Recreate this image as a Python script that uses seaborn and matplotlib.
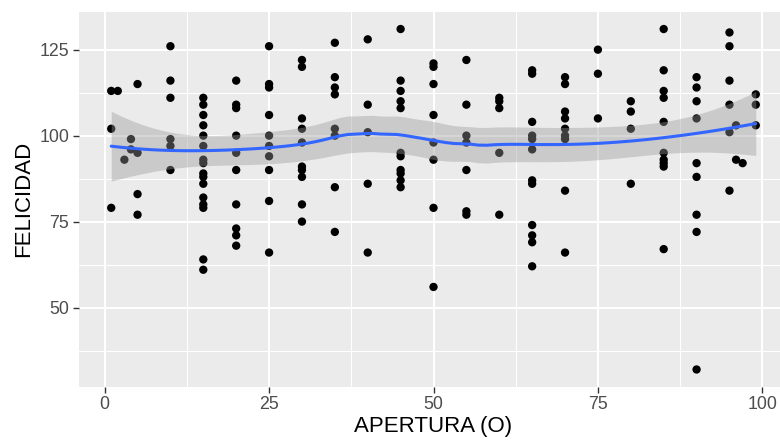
import numpy as np
import pandas as pd
import seaborn as sns
import matplotlib.pyplot as plt
from matplotlib.ticker import MultipleLocator

# Apertura (O) value for every point, and the felicidad read for it
apertura = (
    [1, 1, 1, 2, 3, 4, 4, 5, 5, 5, 5]
    + [10] * 6
    + [15] * 16
    + [20] * 10
    + [25] * 10
    + [30] * 10
    + [35] * 8
    + [40] * 5
    + [45] * 11
    + [50] * 8
    + [55] * 7
    + [60] * 5
    + [65] * 12
    + [70] * 9
    + [75] * 3
    + [80] * 4
    + [85] * 10
    + [90] * 9
    + [95] * 6
    + [96, 96, 97, 99, 99, 99]
)
felicidad = (
    [113, 102, 79, 113, 93, 99, 96, 115, 95, 83, 77]
    + [126, 116, 111, 99, 97, 90]
    + [111, 109, 106, 103, 100, 97, 93, 92, 89, 88, 86, 82, 80, 79, 64, 61]
    + [116, 109, 108, 100, 95, 90, 80, 73, 71, 68]
    + [126, 115, 114, 106, 100, 97, 94, 90, 81, 66]
    + [122, 120, 105, 102, 98, 91, 90, 88, 80, 75]
    + [127, 117, 114, 112, 102, 100, 85, 72]
    + [128, 109, 101, 86, 66]
    + [131, 116, 113, 110, 108, 95, 94, 90, 89, 87, 85]
    + [121, 120, 115, 106, 98, 93, 79, 56]
    + [122, 109, 100, 98, 90, 78, 77]
    + [111, 110, 108, 95, 77]
    + [119, 118, 104, 100, 99, 96, 87, 86, 74, 71, 69, 62]
    + [117, 115, 107, 105, 102, 100, 99, 84, 66]
    + [125, 118, 105]
    + [110, 107, 102, 86]
    + [131, 119, 113, 111, 104, 95, 93, 92, 91, 67]
    + [117, 114, 110, 105, 92, 88, 77, 72, 32]
    + [130, 126, 116, 109, 101, 84]
    + [103, 93, 92, 112, 109, 103]
)
x_ticks = [0, 25, 50, 75, 100]
y_ticks = [50, 75, 100, 125]

df = pd.DataFrame({"APERTURA (O)": apertura, "FELICIDAD": felicidad})


# loess like R's default (degree 2, span 0.75) with a 95% band
def loess_weights(x, x0, span=0.75):
    n = len(x)
    q = int(np.floor(n * span))
    d = np.abs(x - x0)
    h = np.sort(d)[q - 1]
    w = np.clip(1 - (d / h) ** 3, 0, None) ** 3
    X = np.column_stack([np.ones(n), x - x0, (x - x0) ** 2])
    A = X.T @ (w[:, None] * X)
    return np.linalg.solve(A, (X * w[:, None]).T)[0]


xv = df["APERTURA (O)"].to_numpy(float)
yv = df["FELICIDAD"].to_numpy(float)
L = np.array([loess_weights(xv, x0) for x0 in xv])
M = np.eye(len(xv)) - L
resid = M @ yv
delta1 = np.trace(M.T @ M)
sigma = np.sqrt(resid @ resid / delta1)

grid = np.linspace(xv.min(), xv.max(), 80)
Lg = np.array([loess_weights(xv, x0) for x0 in grid])
fit = Lg @ yv
se = sigma * np.sqrt((Lg ** 2).sum(axis=1))
smooth = pd.DataFrame({"x": grid, "fit": fit, "lo": fit - 1.97 * se, "hi": fit + 1.97 * se})

sns.set_theme(style="darkgrid", rc={
    "axes.facecolor": "#EBEBEB",
    "grid.color": "white",
    "axes.edgecolor": "#EBEBEB",
})
plt.rcParams["font.family"] = ["Liberation Sans", "DejaVu Sans"]

fig = plt.figure(figsize=(7.8, 4.41), dpi=100)
# the reference is cut on the right, the panel runs past the edge
ax = fig.add_axes([79 / 780, (441 - 386.5) / 441, 709 / 780, 374.5 / 441])

sns.scatterplot(data=df, x="APERTURA (O)", y="FELICIDAD", color="black",
                s=36, edgecolor="none", ax=ax, zorder=3)
ax.fill_between(smooth["x"], smooth["lo"], smooth["hi"], color="#999999",
                alpha=0.4, linewidth=0, zorder=4)
sns.lineplot(data=smooth, x="x", y="fit", color="#3366FF", linewidth=2.2,
             ax=ax, zorder=5)

xr = xv.max() - xv.min()
yr = yv.max() - yv.min()
ax.set_xlim(xv.min() - 0.05 * xr, xv.max() + 0.05 * xr)
ax.set_ylim(yv.min() - 0.05 * yr, yv.max() + 0.05 * yr)

ax.set_xticks(x_ticks)
ax.set_yticks(y_ticks)
ax.xaxis.set_minor_locator(MultipleLocator(12.5))
ax.yaxis.set_minor_locator(MultipleLocator(12.5))
ax.grid(which="major", color="white", linewidth=1.45)
ax.grid(which="minor", color="white", linewidth=0.75)
ax.set_axisbelow(True)
for s in ax.spines.values():
    s.set_visible(False)

ax.tick_params(which="major", length=4, width=1, color="#333333",
               labelsize=12.8, labelcolor="#4D4D4D", pad=3, direction="out",
               bottom=True, left=True)
ax.tick_params(which="minor", length=0)
ax.set_xlabel("APERTURA (O)", fontsize=16, color="black", labelpad=2)
ax.set_ylabel("FELICIDAD", fontsize=16, color="black", labelpad=4)

fig.savefig("out.png", dpi=100)
